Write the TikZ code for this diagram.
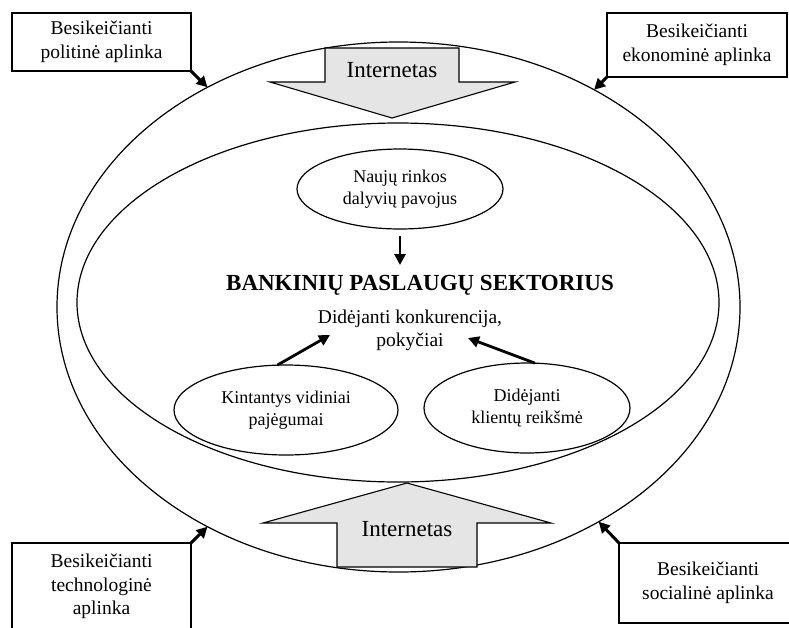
\documentclass[tikz,border=0pt]{standalone}
\usepackage{fontspec}
\setmainfont{Liberation Serif}
\usetikzlibrary{shapes.geometric,arrows.meta}

\begin{document}
\begin{tikzpicture}[x=1pt,y=-1pt,
  envbox/.style={draw, line width=1.1pt, rectangle, inner sep=0pt, outer sep=0pt,
    align=center, font=\fontsize{19.5}{23.5}\selectfont, minimum width=179pt},
  oval/.style={draw, line width=1.2pt, ellipse, inner sep=0pt, outer sep=0pt},
  factor/.style={oval, align=center, font=\fontsize{18}{22}\selectfont},
  push/.style={line width=3pt, -{Triangle[length=11pt,width=11pt]}},
  flow/.style={line width=2.8pt, -{Triangle[length=11pt,width=11pt]}},
  netarrow/.style={draw, line width=1.1pt, fill=black!10},
  nettext/.style={font=\fontsize{23}{27}\selectfont, anchor=base},
]
\clip (0,0) rectangle (789,627);

% environment and sector ellipses
\node[oval, minimum width=683pt, minimum height=530pt] (outer) at (398.5,307) {};
\node[oval, minimum width=642pt, minimum height=359pt] (inner) at (398,302.5) {};

% the two block arrows for the Internet
\draw[netarrow] (325,48) -- (459,48) -- (459,82) -- (515,82) -- (392,118)
  -- (270,82) -- (325,82) -- cycle;
\node[nettext] (nettop) at (392,77) {Internetas};
\draw[netarrow] (337,567) -- (477,567) -- (477,523) -- (551,523) -- (407,483)
  -- (263,523) -- (337,523) -- cycle;
\node[nettext] (netbot) at (407,536) {Internetas};

% forces inside the sector
\node[factor, minimum width=206pt, minimum height=80pt] (naujai) at (400,189)
  {Naujų rinkos\\dalyvių pavojus};
\node[factor, minimum width=224pt, minimum height=90pt] (vidiniai) at (286,410)
  {Kintantys vidiniai\\pajėgumai};
\node[factor, minimum width=206pt, minimum height=90pt] (klientai) at (527,408)
  {Didėjanti\\klientų reikšmė};

\node[font=\bfseries\fontsize{23}{27}\selectfont, anchor=base] (sector) at (420,290)
  {BANKINIŲ PASLAUGŲ SEKTORIUS};
\node[font=\fontsize{19.5}{23}\selectfont, align=center] (change) at (410,330)
  {Didėjanti konkurencija,\\pokyčiai};

\coordinate (dn) at (400,265);
\coordinate (la) at (330,335);
\coordinate (ra) at (468,338);
\draw[flow, shorten <=7pt] (naujai.south) -- (dn);
\draw[flow] (vidiniai.101.6) -- (la);
\draw[flow] (klientai.80) -- (ra);

% surrounding environment boxes
\node[envbox, minimum height=58pt] (pol) at (101.5,42) {Besikeičianti\\politinė aplinka};
\node[envbox, minimum width=180pt, minimum height=64pt] (eko) at (697,45)
  {Besikeičianti\\ekonominė aplinka};
\node[envbox, minimum height=87pt] (tech) at (101.5,586.5)
  {Besikeičianti\\technologinė\\aplinka};
\node[envbox, minimum width=178pt, minimum height=80pt] (soc) at (708,583)
  {Besikeičianti\\socialinė aplinka};

\draw[push] (pol.south east) -- (outer.131.7);
\draw[push] (eko.south west) -- (outer.48.8);
\draw[push] (tech.north east) -- (outer.229);
\draw[push] (soc.north west) -- (outer.313);
\end{tikzpicture}
\end{document}
